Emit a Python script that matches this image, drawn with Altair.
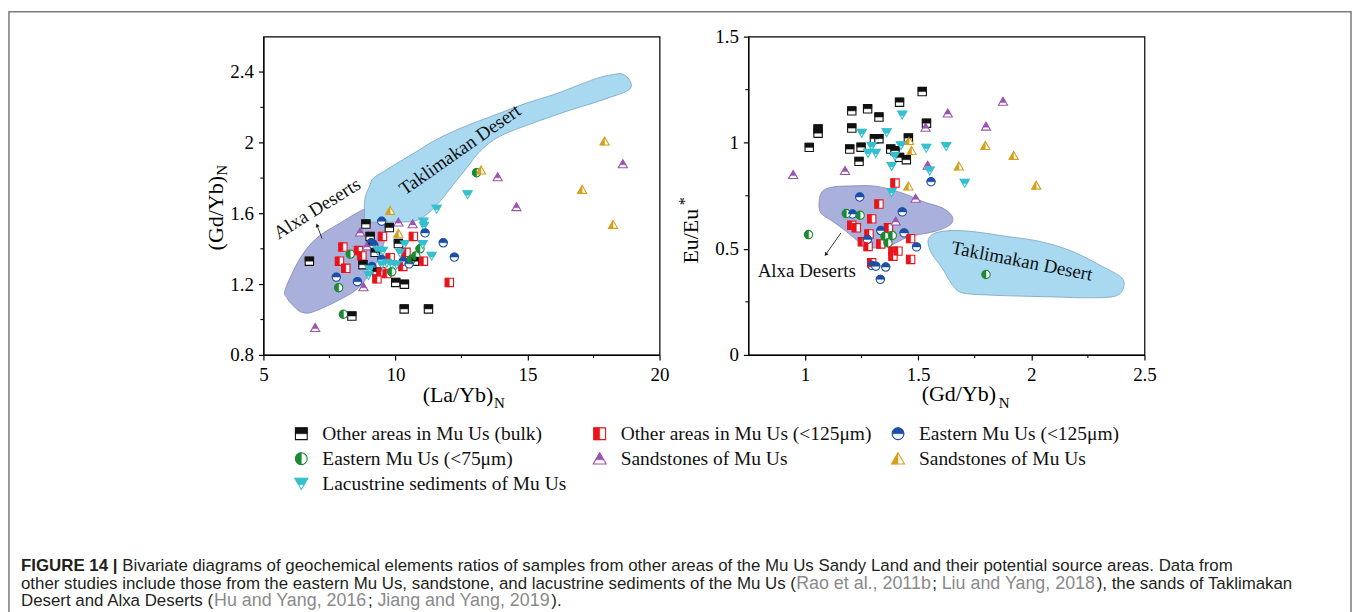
import altair as alt
import pandas as pd

# ---------------- series ----------------
KEYS = ["bulk", "fine125", "east125", "east75", "sand1", "sand2", "lake"]
LABELS = ["Other areas in Mu Us (bulk)", "Other areas in Mu Us (<125μm)", "Eastern Mu Us (<125μm)",
          "Eastern Mu Us (<75μm)", "Sandstones of Mu Us", "Sandstones of Mu Us",
          "Lacustrine sediments of Mu Us"]
COLORS = ["#111111", "#e8141c", "#1d4fa6", "#1b8a32", "#9a55ad", "#d6a01b", "#35bfcf"]
LEG_COL = [0, 1, 2, 0, 1, 2, 0]
LEG_ROW = [0, 0, 0, 1, 1, 1, 2]

# ---------------- left panel: (La/Yb)N vs (Gd/Yb)N ----------------
L_BULK_X = [6.74, 8.88, 9.04, 9.77, 10.11, 9.23, 8.77, 10.72, 10.01, 10.34, 10.33, 11.25, 8.35, 9.30, 9.10]
L_BULK_Y = [1.33, 1.54, 1.47, 1.52, 1.43, 1.38, 1.31, 1.33, 1.21, 1.20, 1.06, 1.06, 1.02, 1.27, 1.42]
L_F125_X = [8.01, 7.88, 8.12, 8.60, 8.73, 9.51, 10.68, 9.80, 10.40, 10.28, 9.30, 9.67, 11.06, 12.04, 9.45]
L_F125_Y = [1.41, 1.33, 1.29, 1.39, 1.36, 1.47, 1.47, 1.35, 1.38, 1.30, 1.23, 1.26, 1.33, 1.21, 1.27]
L_E125_X = [9.48, 11.12, 11.81, 12.23, 9.08, 9.48, 10.30, 10.52, 9.11, 7.76, 8.56, 9.18]
L_E125_Y = [1.556, 1.49, 1.434, 1.353, 1.434, 1.34, 1.33, 1.315, 1.30, 1.24, 1.214, 1.42]
L_E75_X = [8.29, 10.93, 10.77, 9.86, 7.85, 8.03, 13.07, 10.60]
L_E75_Y = [1.37, 1.40, 1.36, 1.27, 1.18, 1.03, 1.83, 1.34]
L_SAND1_X = [6.96, 8.79, 8.66, 8.92, 10.11, 10.65, 13.87, 14.58, 18.61]
L_SAND1_Y = [0.954, 1.184, 1.494, 1.415, 1.55, 1.54, 1.806, 1.637, 1.88]
L_SAND2_X = [9.80, 10.11, 13.24, 17.92, 17.07, 18.24]
L_SAND2_Y = [1.616, 1.487, 1.844, 2.008, 1.735, 1.537]
L_LAKE_X = [12.73, 11.56, 11.06, 11.08, 11.03, 11.37, 10.34, 10.18, 9.52, 9.32, 9.67, 9.48, 9.86, 9.02, 8.98, 10.05]
L_LAKE_Y = [1.707, 1.625, 1.552, 1.528, 1.425, 1.359, 1.425, 1.377, 1.387, 1.39, 1.32, 1.31, 1.313, 1.284, 1.25, 1.31]

L_ALXA_X = [8.92, 8.66, 7.91, 7.03, 6.40, 5.83, 5.90, 6.08, 6.40, 6.78, 7.41, 8.03, 8.54, 8.92, 9.30, 9.55, 9.61, 9.40, 9.10]
L_ALXA_Y = [1.631, 1.613, 1.547, 1.462, 1.349, 1.171, 1.12, 1.086, 1.044, 1.039, 1.077, 1.123, 1.171, 1.236, 1.330, 1.425, 1.518, 1.62, 1.65]
L_TAKL_X = [9.17, 9.67, 10.18, 10.81, 11.43, 12.19, 12.95, 13.95, 14.96, 15.97, 16.98, 17.73, 18.36, 18.61, 18.86,
            18.93, 18.74, 18.23, 17.48, 16.47, 15.21, 13.95, 13.20, 12.70, 12.19, 11.69, 11.18, 10.68, 9.67, 8.92,
            8.83, 8.85, 9.04]
L_TAKL_Y = [1.80, 1.848, 1.895, 1.951, 2.008, 2.064, 2.111, 2.167, 2.224, 2.271, 2.328, 2.369, 2.388, 2.388, 2.356,
            2.318, 2.290, 2.262, 2.224, 2.177, 2.111, 2.036, 1.951, 1.857, 1.763, 1.669, 1.594, 1.556, 1.552, 1.556,
            1.613, 1.688, 1.763]
L_LABEL_TEXT = ["Alxa Deserts", "Taklimakan Desert"]
L_LABEL_X = [7.03, 12.44]
L_LABEL_Y = [1.628, 1.96]
L_ARROW_X = [7.22, 7.03]
L_ARROW_Y = [1.458, 1.533]

# ---------------- right panel: (Gd/Yb)N vs Eu/Eu* ----------------
R_BULK_X = [1.019, 1.058, 1.058, 1.207, 1.207, 1.277, 1.327, 1.198, 1.248, 1.239, 1.307, 1.327, 1.379, 1.398,
            1.418, 1.448, 1.457, 1.418, 1.518, 1.537]
R_BULK_Y = [0.978, 1.065, 1.045, 1.150, 1.069, 1.160, 1.121, 0.970, 0.979, 0.912, 1.019, 1.019, 0.970, 0.962,
            0.931, 0.920, 1.022, 1.191, 1.241, 1.092]
R_F125_X = [1.398, 1.327, 1.295, 1.207, 1.227, 1.283, 1.254, 1.279, 1.335, 1.369, 1.467, 1.389, 1.411, 1.389, 1.467, 1.295]
R_F125_Y = [0.810, 0.711, 0.641, 0.611, 0.599, 0.570, 0.533, 0.511, 0.523, 0.599, 0.548, 0.489, 0.489, 0.465, 0.450, 0.434]
R_E125_X = [1.557, 1.242, 1.210, 1.430, 1.335, 1.276, 1.438, 1.493, 1.295, 1.357, 1.333, 1.313]
R_E125_Y = [0.816, 0.744, 0.664, 0.674, 0.586, 0.544, 0.575, 0.509, 0.422, 0.414, 0.356, 0.418]
R_E75_X = [1.016, 1.183, 1.244, 1.386, 1.354, 1.367, 1.800]
R_E75_Y = [0.567, 0.666, 0.658, 0.563, 0.559, 0.528, 0.379]
R_SAND1_X = [0.948, 1.177, 1.631, 1.533, 1.800, 1.875, 1.542, 1.489, 1.401]
R_SAND1_Y = [0.849, 0.868, 1.139, 1.072, 1.077, 1.194, 0.893, 0.737, 0.630]
R_SAND2_X = [1.460, 1.471, 1.797, 1.922, 1.680, 1.457, 2.022]
R_SAND2_Y = [1.009, 0.962, 0.986, 0.939, 0.889, 0.795, 0.799]
R_LAKE_X = [1.251, 1.361, 1.430, 1.295, 1.279, 1.313, 1.424, 1.398, 1.383, 1.536, 1.624, 1.551, 1.706, 1.383]
R_LAKE_Y = [1.045, 1.048, 1.131, 0.983, 0.951, 0.951, 0.987, 0.936, 0.889, 0.975, 0.983, 0.868, 0.810, 0.766]

R_ALXA_X = [1.063, 1.077, 1.122, 1.195, 1.313, 1.430, 1.518, 1.606, 1.650, 1.643, 1.577, 1.504, 1.445, 1.386,
            1.327, 1.269, 1.225, 1.181, 1.122, 1.070]
R_ALXA_Y = [0.724, 0.771, 0.791, 0.796, 0.795, 0.763, 0.724, 0.693, 0.654, 0.614, 0.583, 0.567, 0.551, 0.520,
            0.504, 0.512, 0.544, 0.583, 0.630, 0.669]
R_TAKL_X = [1.548, 1.577, 1.650, 1.753, 1.886, 2.032, 2.179, 2.326, 2.400, 2.407, 2.371, 2.253, 2.106, 1.959,
            1.812, 1.694, 1.650, 1.606, 1.562, 1.545]
R_TAKL_Y = [0.551, 0.575, 0.586, 0.580, 0.559, 0.536, 0.489, 0.410, 0.363, 0.316, 0.277, 0.269, 0.273, 0.277,
            0.282, 0.293, 0.332, 0.410, 0.473, 0.520]
R_ARROW_X = [1.159, 1.092]
R_ARROW_Y = [0.575, 0.473]

# ---------------- caption ----------------
CAPTION = [
    [("FIGURE 14 |", "bold"),
     (" Bivariate diagrams of geochemical elements ratios of samples from other areas of the Mu Us Sandy Land "
      "and their potential source areas. Data from", "dark")],
    [("other studies include those from the eastern Mu Us, sandstone, and lacustrine sediments of the Mu Us (", "dark"),
     ("Rao et al., 2011b", "grey"), ("; ", "dark"), ("Liu and Yang, 2018", "grey"),
     ("), the sands of Taklimakan", "dark")],
    [("Desert and Alxa Deserts (", "dark"), ("Hu and Yang, 2016", "grey"), ("; ", "dark"),
     ("Jiang and Yang, 2019", "grey"), (").", "dark")],
]

# ---------------- styles ----------------
W, H = 397, 319
SERIF = "Liberation Serif"
SANS = "Liberation Sans"
FULL = ["M-1,-1H1V1H-1Z", "M-1,-1H1V1H-1Z",
        "M-1,0A1,1,0,1,1,1,0A1,1,0,1,1,-1,0Z", "M-1,0A1,1,0,1,1,1,0A1,1,0,1,1,-1,0Z",
        "M0,-1L1.1,0.9L-1.1,0.9Z", "M0,-1L1.1,0.9L-1.1,0.9Z", "M-1.1,-0.9L1.1,-0.9L0,1Z"]
HALF = ["M-1,-1H1V0H-1Z", "M-1,-1H0V1H-1Z",
        "M-1,0A1,1,0,0,1,1,0Z", "M0,-1A1,1,0,0,0,0,1Z",
        "M0,-1L0.695,0.2L-0.695,0.2Z", "M0,-1L0,0.9L-1.1,0.9Z", "M-1.1,-0.9L1.1,-0.9L0.463,0.2L-0.463,0.2Z"]


def pts(pairs):
    rows = []
    for k, (xs, ys) in zip(KEYS, pairs):
        for a, b in zip(xs, ys):
            rows.append({"series": k, "x": a, "y": b})
    return pd.DataFrame(rows)


def poly(xs, ys):
    return pd.DataFrame({"x": xs, "y": ys, "i": list(range(len(xs)))})


def marker_layers(df, X, Y, size):
    col = alt.Scale(domain=KEYS, range=COLORS)
    outline = alt.Chart(df).mark_point(filled=False, fill="white", fillOpacity=1, opacity=1,
                                       strokeWidth=1.1, size=size).encode(
        x=X, y=Y,
        shape=alt.Shape("series:N", scale=alt.Scale(domain=KEYS, range=FULL), legend=None),
        stroke=alt.Stroke("series:N", scale=col, legend=None))
    half = alt.Chart(df).mark_point(filled=True, opacity=1, strokeWidth=0.5, size=size).encode(
        x=X, y=Y,
        shape=alt.Shape("series:N", scale=alt.Scale(domain=KEYS, range=HALF), legend=None),
        fill=alt.Fill("series:N", scale=col, legend=None),
        stroke=alt.Stroke("series:N", scale=col, legend=None))
    return [outline, half]


def text_at(txt, x, y, size, angle=0, align="center", baseline="alphabetic"):
    kw = dict(font=SERIF, fontSize=size, align=align, baseline=baseline, color="#000")
    if angle:
        kw["angle"] = angle
    return alt.Chart(pd.DataFrame({"t": [txt]})).mark_text(**kw).encode(
        x=alt.value(x), y=alt.value(y), text="t:N")


def panel(pairs, alxa, takl, xdom, ydom, xvals, yvals, xminor, yminor, labels, arrow, arrow_angle, extra):
    xs = alt.Scale(domain=xdom, nice=False, zero=False)
    ys = alt.Scale(domain=ydom, nice=False, zero=False)
    X = alt.X("x:Q", scale=xs, axis=alt.Axis(values=xvals, title=None, labelPadding=6,
                                             labelExpr="'' + datum.value"))
    Y = alt.Y("y:Q", scale=ys, axis=alt.Axis(values=yvals, title=None, labelPadding=5,
                                             labelExpr="'' + datum.value"))
    layers = list(extra)
    layers.append(alt.Chart(poly(*alxa)).mark_line(
        interpolate="cardinal-closed", fill="#aab0dc", stroke="#8088bc", strokeWidth=0.8).encode(
        x=X, y=Y, order="i:Q"))
    layers.append(alt.Chart(poly(*takl)).mark_line(
        interpolate="cardinal-closed", fill="#a8d9f1", stroke="#7aa3bd", strokeWidth=0.8).encode(
        x=X, y=Y, order="i:Q"))
    layers.append(alt.Chart(pd.DataFrame({"x": xminor})).mark_rule(color="#000", strokeWidth=1.1).encode(
        x=X, y=alt.value(H), y2=alt.value(H + 3)))
    layers.append(alt.Chart(pd.DataFrame({"y": yminor})).mark_rule(color="#000", strokeWidth=1.1).encode(
        y=Y, x=alt.value(0), x2=alt.value(-3)))
    for (t, lx, ly, ang, fs, al) in labels:
        kw = dict(font=SERIF, fontSize=fs, align=al, baseline="middle", color="#111")
        if ang:
            kw["angle"] = ang
        layers.append(alt.Chart(pd.DataFrame({"x": [lx], "y": [ly], "t": [t]})).mark_text(**kw).encode(
            x=X, y=Y, text="t:N"))
    adf = pd.DataFrame({"x": arrow[0], "y": arrow[1], "i": [0, 1]})
    layers.append(alt.Chart(adf).mark_line(color="#222", strokeWidth=0.9).encode(x=X, y=Y, order="i:Q"))
    layers.append(alt.Chart(adf.iloc[[1]]).mark_point(shape="triangle-up", filled=True, color="#222",
                                                      opacity=1, size=18, angle=arrow_angle).encode(x=X, y=Y))
    layers += marker_layers(pts(pairs), X, Y, 70)
    return layers


border = alt.Chart(pd.DataFrame({"a": [0]})).mark_rect(fillOpacity=0, stroke="#7a7a7a", strokeWidth=1.5).encode(
    x=alt.value(-255), x2=alt.value(1090), y=alt.value(-25), y2=alt.value(585))

left_titles = [
    text_at("(La/Yb)", 195, 366, 22),
    text_at("N", 231, 372, 15, align="left"),
    text_at("(Gd/Yb)", -48, 177, 22, angle=270, baseline="middle"),
    text_at("N", -41, 134, 15, angle=270, baseline="middle"),
]
left_layers = panel(
    [(L_BULK_X, L_BULK_Y), (L_F125_X, L_F125_Y), (L_E125_X, L_E125_Y), (L_E75_X, L_E75_Y),
     (L_SAND1_X, L_SAND1_Y), (L_SAND2_X, L_SAND2_Y), (L_LAKE_X, L_LAKE_Y)],
    (L_ALXA_X, L_ALXA_Y), (L_TAKL_X, L_TAKL_Y), [5, 20], [0.8, 2.6], [5, 10, 15, 20],
    [0.8, 1.2, 1.6, 2, 2.4], [7.5, 12.5, 17.5], [1.0, 1.4, 1.8, 2.2],
    [(L_LABEL_TEXT[0], L_LABEL_X[0], L_LABEL_Y[0], 328, 19, "center"),
     (L_LABEL_TEXT[1], L_LABEL_X[1], L_LABEL_Y[1], 325, 19, "center")],
    (L_ARROW_X, L_ARROW_Y), 339, [border])
left = alt.layer(*(left_layers + left_titles)).resolve_scale(shape="independent").properties(
    width=W, height=H, view=alt.ViewBackground(stroke="#000", strokeWidth=1.2))

right_titles = [
    text_at("(Gd/Yb)", 211, 365, 22),
    text_at("N", 251, 372, 15, align="left"),
    text_at("Eu/Eu", -57, 200, 22, angle=270, baseline="middle"),
    text_at("*", -63, 165, 16, angle=270, baseline="middle"),
]
right_layers = panel(
    [(R_BULK_X, R_BULK_Y), (R_F125_X, R_F125_Y), (R_E125_X, R_E125_Y), (R_E75_X, R_E75_Y),
     (R_SAND1_X, R_SAND1_Y), (R_SAND2_X, R_SAND2_Y), (R_LAKE_X, R_LAKE_Y)],
    (R_ALXA_X, R_ALXA_Y), (R_TAKL_X, R_TAKL_Y), [0.75, 2.5], [0, 1.5], [1, 1.5, 2, 2.5],
    [0, 0.5, 1, 1.5], [1.25, 1.75, 2.25], [0.25, 0.75, 1.25],
    [("Alxa Deserts", 0.791, 0.395, 0, 19, "left"),
     ("Taklimakan Desert", 1.959, 0.442, 11, 19, "center")],
    (R_ARROW_X, R_ARROW_Y), 215, [])
right = alt.layer(*(right_layers + right_titles)).resolve_scale(shape="independent").properties(
    width=W, height=H, view=alt.ViewBackground(stroke="#000", strokeWidth=1.2))

# ---------------- legend ----------------
leg_df = pd.DataFrame({"series": KEYS, "label": LABELS, "x": LEG_COL, "y": LEG_ROW})
LX = alt.X("x:Q", scale=alt.Scale(domain=[0, 2], range=[38, 636]), axis=None)
LY = alt.Y("y:Q", scale=alt.Scale(domain=[0, 2], range=[0, 50]), axis=None)
leg_layers = marker_layers(leg_df, LX, LY, 140)
leg_layers.append(alt.Chart(leg_df).mark_text(font=SERIF, fontSize=19.5, align="left", baseline="middle",
                                              dx=21, color="#111").encode(x=LX, y=LY, text="label:N"))

# ---------------- caption (segment offsets from Helvetica/Arial metrics) ----------------
HELV = {' ': 278, '(': 333, ')': 333, ',': 278, '.': 278, ';': 278, '|': 260, '-': 333,
        'A': 667, 'B': 667, 'C': 722, 'D': 722, 'E': 667, 'F': 611, 'G': 778, 'H': 722, 'I': 278, 'J': 500,
        'K': 667, 'L': 556, 'M': 833, 'N': 722, 'O': 778, 'P': 667, 'R': 722, 'S': 667, 'T': 611, 'U': 722,
        'V': 667, 'W': 944, 'Y': 667,
        'a': 556, 'b': 556, 'c': 500, 'd': 556, 'e': 556, 'f': 278, 'g': 556, 'h': 556, 'i': 222, 'j': 222,
        'k': 500, 'l': 222, 'm': 833, 'n': 556, 'o': 556, 'p': 556, 'q': 556, 'r': 333, 's': 500, 't': 278,
        'u': 556, 'v': 500, 'w': 722, 'x': 500, 'y': 500, 'z': 500}
HELV_B = {' ': 278, '|': 280, 'F': 611, 'I': 278, 'G': 778, 'U': 722, 'R': 722, 'E': 667}


def em(s, bold=False):
    t = HELV_B if bold else HELV
    return sum(t.get(c, HELV.get(c, 556)) for c in s) / 1000.0


GREY_RATIO = 1.06
_em1 = sum(em(s, k == "bold") for s, k in CAPTION[0])
_em2 = sum(em(s) * (GREY_RATIO if k == "grey" else 1.0) for s, k in CAPTION[1])
FS_DARK = (_em1 * 1215 + _em2 * 1276) / (_em1 ** 2 + _em2 ** 2)
FS = {"bold": FS_DARK, "dark": FS_DARK, "grey": FS_DARK * GREY_RATIO}
rows = []
for li, segs in enumerate(CAPTION):
    off = -243.0
    for s, kind in segs:
        lead = len(s) - len(s.lstrip())
        rows.append({"line": li, "x": off + em(s[:lead]) * FS[kind], "t": s.strip(), "kind": kind})
        off += em(s, kind == "bold") * FS[kind]
cap_df = pd.DataFrame(rows)
CX = alt.X("x:Q", scale=alt.Scale(domain=[-243, 1100], range=[-243, 1100]), axis=None)
CY = alt.Y("line:Q", scale=alt.Scale(domain=[0, 2], range=[133, 168]), axis=None)
cap_layers = []
for kind, weight, colr in [("bold", "bold", "#231f20"), ("dark", "normal", "#231f20"), ("grey", "normal", "#8a8a8a")]:
    cap_layers.append(alt.Chart(cap_df).transform_filter(alt.datum.kind == kind).mark_text(
        font=SANS, fontSize=FS[kind], fontWeight=weight, align="left", baseline="middle", color=colr).encode(
        x=CX, y=CY, text="t:N"))

legcap = alt.layer(*(leg_layers + cap_layers)).resolve_scale(
    x="independent", y="independent", shape="independent").properties(width=W, height=50)

chart = alt.concat(left, right, legcap, columns=2, spacing={"row": 79, "column": 89}, bounds="flush").properties(
    padding={"left": 7, "top": 9, "right": 3, "bottom": 3}, background="white"
).configure_view(stroke="transparent").configure_axis(
    labelFont=SERIF, labelFontSize=19, labelColor="#000", tickColor="#000", domainColor="#000",
    tickSize=5, tickWidth=1.2, domainWidth=1.2, grid=False, labelFlush=False, labelOverlap=False
)

chart.save("out.html", embed_options={"renderer": "svg", "actions": False})
